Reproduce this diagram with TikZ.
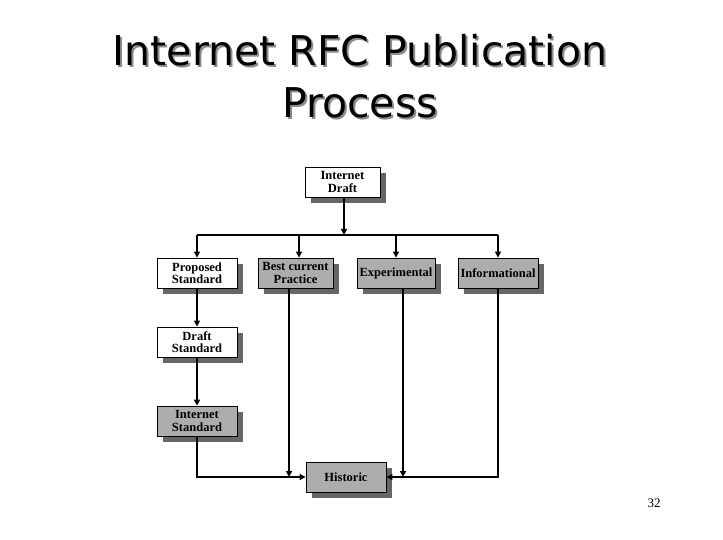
\documentclass[tikz,border=0pt]{standalone}
\usepackage{fontspec}
\setmainfont{Liberation Serif}
\newfontfamily\titlefont{DejaVu Sans}
\usetikzlibrary{arrows.meta}
\begin{document}
\begin{tikzpicture}[x=1pt,y=-1pt,
  bx/.style={draw,line width=0.8pt,minimum width=#1,minimum height=30pt,align=center,inner sep=1pt,
    font=\fontsize{12.5}{12.5}\selectfont\bfseries,
    preaction={fill=black!60,transform canvas={xshift=6pt,yshift=-6pt}}},
  bx/.default=80pt,
  wb/.style={fill=white},
  gb/.style={fill=black!32},
  ln/.style={line width=1.6pt},
  ar/.style={ln,-{Triangle[length=6pt,width=6pt]}},
  tt/.style={font=\titlefont\fontsize{41}{44}\selectfont}]
\useasboundingbox (0,0) rectangle (723,540);
\node[tt,text=black!45] (t1s) at (362,52) {Internet RFC Publication};
\node[tt] (t1) at (360,50) {Internet RFC Publication};
\node[tt,text=black!45] (t2s) at (362,105) {Process};
\node[tt] (t2) at (360,103) {Process};
\node[bx=75pt,wb] (id) at (342.5,182) {Internet\\Draft};
\node[bx,wb] (ps) at (197,273) {Proposed\\Standard};
\node[bx=75pt,gb] (bc) at (295.5,273) {Best current\\Practice};
\node[bx=78pt,gb] (ex) at (396,273) {Experimental};
\node[bx,gb] (inf) at (498,273) {Informational};
\node[bx,wb] (ds) at (197,342) {Draft\\Standard};
\node[bx,gb] (is) at (197,421) {Internet\\Standard};
\node[bx,gb] (hi) at (346,477) {Historic};
\coordinate (bus) at (344,235);
\draw[ar] (344,0 |- id.south) -- (bus);
\draw[ln] (197,235) -- (498,235);
\draw[ar] (197,235) -- (ps.north);
\draw[ar] (299,235) -- (299,0 |- bc.north);
\draw[ar] (396,235) -- (ex.north);
\draw[ar] (498,235) -- (inf.north);
\draw[ar] (ps) -- (ds);
\draw[ar] (ds) -- (is);
\draw[ar] (is.south) |- (hi.west);
\draw[ar] (inf.south) |- (hi.east);
\draw[ar] (289,0 |- bc.south) -- (289,477);
\draw[ar] (403,0 |- ex.south) -- (403,477);
\node[font=\fontsize{13}{14}\selectfont] (pg) at (654,503) {32};
\end{tikzpicture}
\end{document}
